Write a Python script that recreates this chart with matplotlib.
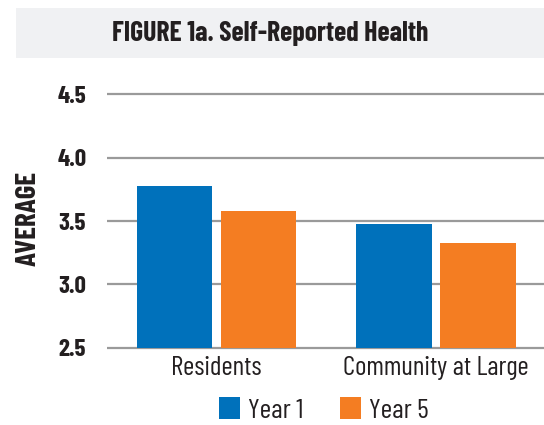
import matplotlib
matplotlib.use("Agg")
import matplotlib.pyplot as plt
from matplotlib.patches import Rectangle
import numpy as np

categories = ["Residents", "Community at Large"]
series_names = ["Year 1", "Year 5"]
year1 = [3.78, 3.48]
year5 = [3.58, 3.33]
yticks = [2.5, 3.0, 3.5, 4.0, 4.5]
ytick_labels = ["2.5", "3.0", "3.5", "4.0", "4.5"]
title = "FIGURE 1a. Self-Reported Health"
ylabel = "AVERAGE"

BLUE = "#0071bb"
ORANGE = "#f47d22"
TEXT = "#231f20"
GRID = "#9a9a9a"
FONT = ["Barlow Condensed", "DejaVu Sans"]

plt.rcParams["font.family"] = FONT

W, H = 544, 425
fig = plt.figure(figsize=(W / 100, H / 100), dpi=100)

# title band
fig.patches.append(Rectangle((16 / W, 1 - 58 / H), (W - 16) / W, 50 / H,
                             transform=fig.transFigure, facecolor="#f0f1f3",
                             edgecolor="none", zorder=0))
fig.text(270 / W, 1 - 33 / H, title, ha="center", va="center",
         fontsize=20, fontweight="bold", color=TEXT)

ylo, yhi = 2.48, 4.52
px_per_unit = 126.7
bottom_px = 347.7 + (2.5 - ylo) * px_per_unit
height_px = (yhi - ylo) * px_per_unit
ax = fig.add_axes([107 / W, 1 - bottom_px / H, (W - 107) / W, height_px / H])

x = np.arange(len(categories))
bw = 0.342
off = 0.1913
ax.bar(x - off, np.array(year1) - 2.5, bw, bottom=2.5, color=BLUE,
       label=series_names[0], zorder=3)
ax.bar(x + off, np.array(year5) - 2.5, bw, bottom=2.5, color=ORANGE,
       label=series_names[1], zorder=3)

ax.set_xlim(-0.499, 1.492)
ax.set_ylim(ylo, yhi)
ax.set_yticks(yticks)
ax.set_yticklabels(ytick_labels, fontsize=18, fontweight="bold", color=TEXT)
ax.set_xticks(x)
ax.set_xticklabels(categories, fontsize=19.5, color=TEXT)
ax.tick_params(axis="both", length=0)
ax.tick_params(axis="y", pad=25)
ax.tick_params(axis="x", pad=4)
for t in ax.get_yticklabels():
    t.set_horizontalalignment("center")
for s in ax.spines.values():
    s.set_visible(False)
ax.yaxis.grid(True, color=GRID, linewidth=1.6, zorder=0)
ax.set_axisbelow(True)

fig.text(28 / W, 1 - 218 / H, ylabel, rotation=90, ha="center", va="center",
         fontsize=21, fontweight="bold", color=TEXT)

leg = fig.legend(loc="center", bbox_to_anchor=(324 / W, 1 - 410 / H), ncol=2,
                 frameon=False, fontsize=20, handlelength=0.75,
                 handleheight=0.8, handletextpad=0.3, columnspacing=1.3,
                 labelcolor=TEXT)

fig.savefig("out.png", dpi=100)
